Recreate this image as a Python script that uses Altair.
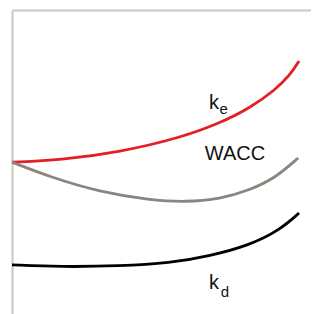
import altair as alt
import pandas as pd

# Curves (x: leverage, y: rate, arbitrary units)
ke_x = [0.0, 1.61, 3.61, 5.62, 6.96, 7.96, 8.80, 9.30, 9.60]
ke_y = [4.86, 4.93, 5.20, 5.68, 6.18, 6.69, 7.30, 7.80, 8.28]

wacc_x = [0.0, 1.27, 2.94, 4.62, 5.79, 6.96, 7.96, 8.80, 9.57]
wacc_y = [4.86, 4.36, 3.85, 3.58, 3.51, 3.61, 3.92, 4.32, 5.00]

kd_x = [0.0, 1.61, 3.61, 5.28, 6.62, 7.96, 8.96, 9.60]
kd_y = [1.39, 1.32, 1.35, 1.45, 1.69, 2.06, 2.57, 3.14]

# Labels
main_text = ["k", "WACC", "k", "%"]
main_x = [6.59, 6.45, 6.59, 0.77]
main_y = [6.66, 4.93, 0.57, 10.2]

sub_text = ["e", "d"]
sub_x = [6.94, 6.98]
sub_y = [6.50, 0.32]

rows = []
for s, xs, ys in [("ke", ke_x, ke_y), ("WACC", wacc_x, wacc_y), ("kd", kd_x, kd_y)]:
    for i, (a, b) in enumerate(zip(xs, ys)):
        rows.append({"series": s, "x": a, "y": b, "order": i})
df = pd.DataFrame(rows)

xs = alt.Scale(domain=[0, 10])
ys = alt.Scale(domain=[-0.27, 10])

lines = alt.Chart(df).mark_line(interpolate="basis", strokeWidth=2.8, clip=False).encode(
    x=alt.X("x:Q", scale=xs, axis=alt.Axis(orient="top", title=None, labels=False, ticks=False,
                                          grid=False, domainColor="#cbc7bf", domainWidth=2)),
    y=alt.Y("y:Q", scale=ys, axis=alt.Axis(title=None, labels=False, ticks=False, grid=False,
                                          domainColor="#cbc7bf", domainWidth=2)),
    color=alt.Color("series:N", scale=alt.Scale(domain=["ke", "WACC", "kd"],
                                                range=["#e31e24", "#8c847d", "#000000"]), legend=None),
    order="order:Q",
    detail="series:N",
)

lab_df = pd.DataFrame({"t": main_text, "x": main_x, "y": main_y})
labels = alt.Chart(lab_df).mark_text(align="left", baseline="alphabetic", fontSize=20,
                                     font="Liberation Sans", color="#111111").encode(
    x=alt.X("x:Q", scale=xs), y=alt.Y("y:Q", scale=ys), text="t:N")

sub_df = pd.DataFrame({"t": sub_text, "x": sub_x, "y": sub_y})
subs = alt.Chart(sub_df).mark_text(align="left", baseline="alphabetic", fontSize=15,
                                   font="Liberation Sans", color="#111111").encode(
    x=alt.X("x:Q", scale=xs), y=alt.Y("y:Q", scale=ys), text="t:N")

chart = alt.layer(lines, labels, subs).properties(
    width=299, height=304,
    padding={"left": 4, "top": 2, "right": 0, "bottom": 0},
    autosize=alt.AutoSizeParams(type="none"),
).configure_view(stroke=None).configure(background="white")

chart.save("out.html", embed_options={"renderer": "svg", "actions": False})
